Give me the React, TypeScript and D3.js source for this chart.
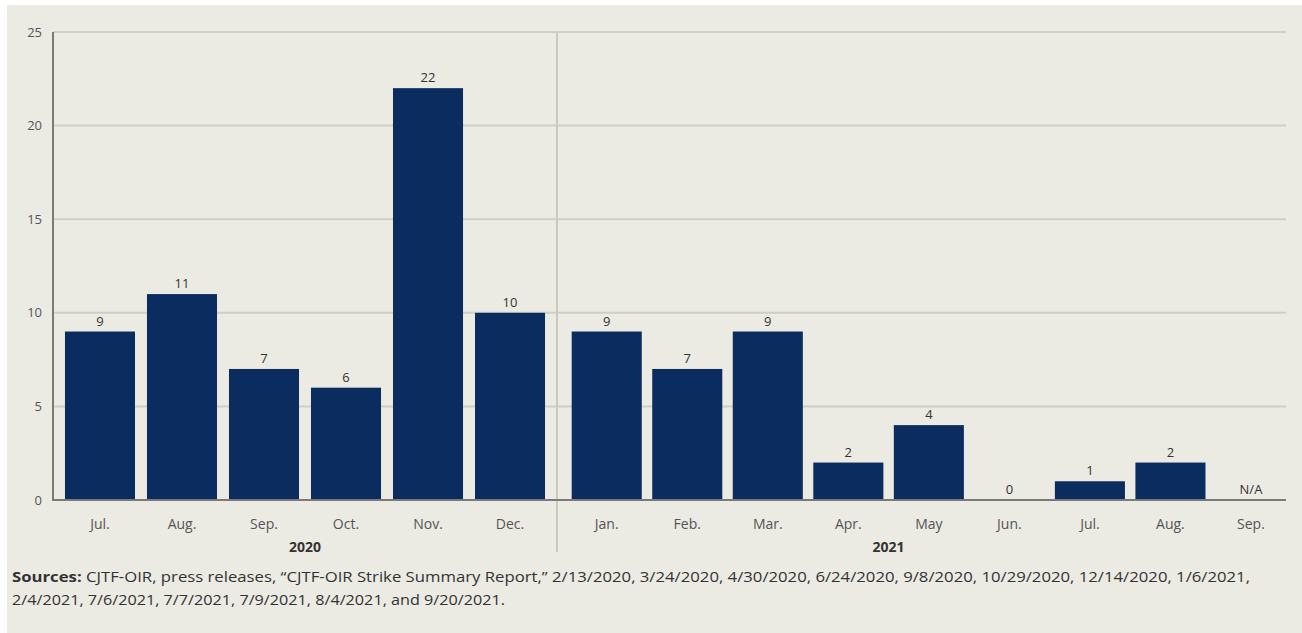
import React from "react";
import * as d3 from "d3";

const months2020 = ["Jul.", "Aug.", "Sep.", "Oct.", "Nov.", "Dec."];
const values2020 = [9, 11, 7, 6, 22, 10];
const months2021 = ["Jan.", "Feb.", "Mar.", "Apr.", "May", "Jun.", "Jul.", "Aug.", "Sep."];
const values2021: (number | null)[] = [9, 7, 9, 2, 4, 0, 1, 2, null];
const yTicks = [0, 5, 10, 15, 20, 25];
const yearLabels = ["2020", "2021"];
const sourceLines = [
  "CJTF-OIR, press releases, \u201CCJTF-OIR Strike Summary Report,\u201D 2/13/2020, 3/24/2020, 4/30/2020, 6/24/2020, 9/8/2020, 10/29/2020, 12/14/2020, 1/6/2021,",
  "2/4/2021, 7/6/2021, 7/7/2021, 7/9/2021, 8/4/2021, and 9/20/2021.",
];

const W = 1302;
const H = 633;
const left = 53;
const sep = 557;
const right = 1286;
const yTop = 32;
const yBottom = 500;
const barColor = "#0b2c5e";
const font = "'Open Sans', Lato, sans-serif";

export default function App() {
  const y = d3.scaleLinear().domain([0, 25]).range([yBottom, yTop]);
  const x1 = d3.scaleBand<string>().domain(months2020).range([left, sep]).paddingInner(0.146).paddingOuter(0.146);
  const x2 = d3
    .scaleBand<string>()
    .domain(months2021)
    .range([sep, right])
    .paddingInner(0.13)
    .paddingOuter(0.0913)
    .align(1);

  const groups = [
    { x: x1, months: months2020, values: values2020 as (number | null)[] },
    { x: x2, months: months2021, values: values2021 },
  ];

  const year1X = left + (sep - left) / 2;
  const year2X = ((x2("Jan.") ?? 0) + (x2("Aug.") ?? 0) + x2.bandwidth()) / 2;

  return (
    <div style={{ position: "absolute", left: 0, top: 0 }}>
      <svg width={W} height={H} style={{ display: "block", fontFamily: font }}>
        <rect x={0} y={0} width={W} height={H} fill="#ffffff" />
        <rect x={7} y={5} width={W - 7} height={H - 5} fill="#ebeae3" />
        {yTicks.filter((t) => t > 0).map((t) => (
          <line key={t} x1={left} x2={right} y1={y(t)} y2={y(t)} stroke="#cfcec7" strokeWidth={2} />
        ))}
        <line x1={sep} x2={sep} y1={yTop} y2={552} stroke="#c9c8c1" strokeWidth={2} />
        {yTicks.map((t) => (
          <text key={t} x={42} y={y(t)} dy="0.35em" textAnchor="end" fontSize={13} fill="#555">
            {t}
          </text>
        ))}
        {groups.map((g, gi) =>
          g.months.map((m, i) => {
            const v = g.values[i];
            const bx = g.x(m) ?? 0;
            const bw = g.x.bandwidth();
            const cx = bx + bw / 2;
            return (
              <g key={gi + "-" + m}>
                {v !== null && v > 0 && (
                  <rect x={bx} y={y(v)} width={bw} height={y(0) - y(v)} fill={barColor} />
                )}
                <text x={cx} y={y(v ?? 0) - 6} textAnchor="middle" fontSize={13} fill="#333">
                  {v === null ? "N/A" : v}
                </text>
                <text x={cx} y={529} textAnchor="middle" fontSize={14} fill="#555">
                  {m}
                </text>
              </g>
            );
          })
        )}
        <line x1={left} x2={left} y1={yTop} y2={yBottom + 1} stroke="#7a7a7a" strokeWidth={2} />
        <line x1={left} x2={right} y1={yBottom} y2={yBottom} stroke="#7a7a7a" strokeWidth={2} />
        <text x={year1X} y={552} textAnchor="middle" fontSize={14} fontWeight="bold" fill="#333">
          {yearLabels[0]}
        </text>
        <text x={year2X} y={552} textAnchor="middle" fontSize={14} fontWeight="bold" fill="#333">
          {yearLabels[1]}
        </text>
        <text x={12} y={582} fontSize={14} fill="#333" textLength={1238} lengthAdjust="spacingAndGlyphs">
          <tspan fontWeight="bold">Sources:</tspan> {sourceLines[0]}
        </text>
        <text x={12} y={605} fontSize={14} fill="#333" textLength={493} lengthAdjust="spacingAndGlyphs">
          {sourceLines[1]}
        </text>
      </svg>
    </div>
  );
}
